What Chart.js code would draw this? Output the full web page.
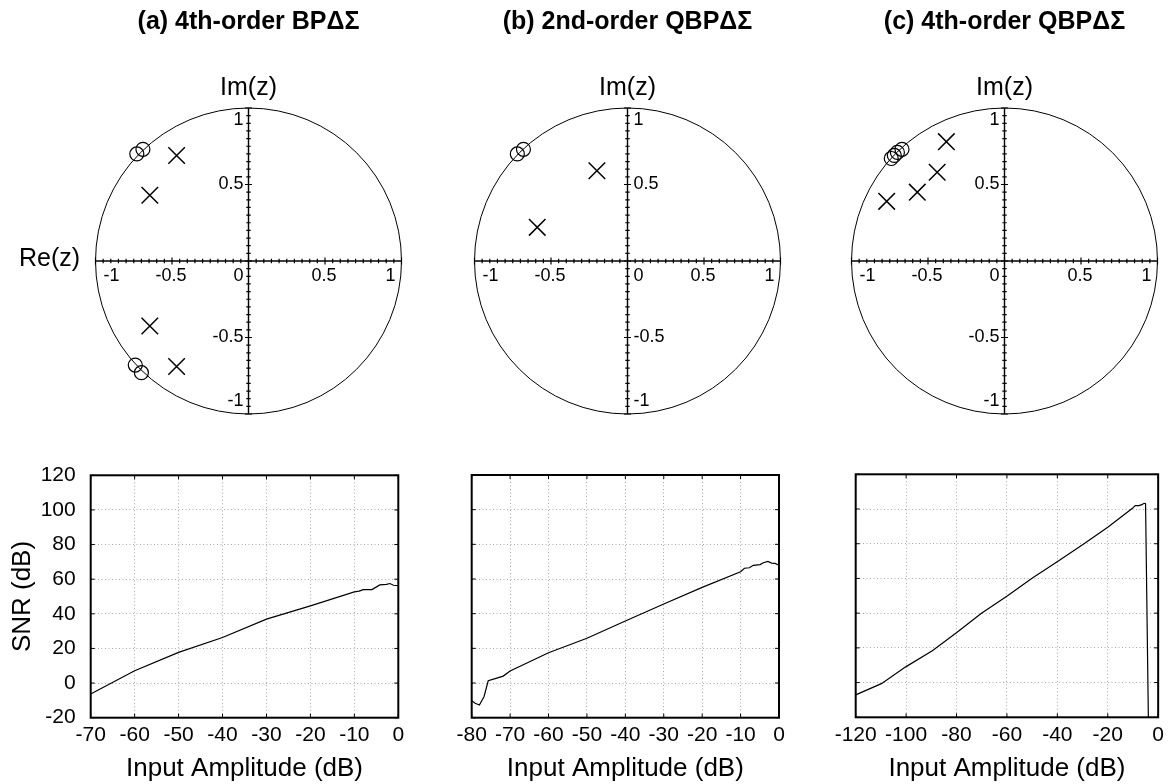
<!DOCTYPE html>
<html>
<head>
<meta charset="utf-8">
<script src="https://cdn.jsdelivr.net/npm/chart.js@4.4.0/dist/chart.umd.min.js"></script>
<style>
  html, body { margin: 0; padding: 0; background: #fff; overflow: hidden; }
  #wrap { position: relative; width: 1169px; height: 784px; }
  canvas { position: absolute; }
</style>
</head>
<body>
<div id="wrap">
  <canvas id="pzA" width="497" height="440" style="left:0px;top:0px"></canvas>
  <canvas id="pzB" width="401" height="440" style="left:427px;top:0px"></canvas>
  <canvas id="pzC" width="329" height="440" style="left:840px;top:0px"></canvas>
  <canvas id="snrA" width="420" height="344" style="left:0px;top:440px"></canvas>
  <canvas id="snrB" width="380" height="344" style="left:420px;top:440px"></canvas>
  <canvas id="snrC" width="369" height="344" style="left:800px;top:440px"></canvas>
</div>
<script>
// ---- pole / zero locations (real, imaginary) ----
const zerosA_re = [-0.73, -0.69, -0.74, -0.70];
const zerosA_im = [0.70, 0.73, -0.68, -0.73];
const polesA_re = [-0.47, -0.645, -0.645, -0.47];
const polesA_im = [0.69, 0.43, -0.425, -0.69];

const zerosB_re = [-0.72, -0.68];
const zerosB_im = [0.70, 0.73];
const polesB_re = [-0.20, -0.59];
const polesB_im = [0.59, 0.22];

const zerosC_re = [-0.74, -0.72, -0.70, -0.67];
const zerosC_im = [0.67, 0.69, 0.71, 0.73];
const polesC_re = [-0.38, -0.44, -0.57, -0.77];
const polesC_im = [0.78, 0.58, 0.45, 0.39];

// ---- z-plane axis ticks ----
const unitTicks = [-1, -0.5, 0, 0.5, 1];
const unitTickLabels = ['-1', '-0.5', '0', '0.5', '1'];

// ---- SNR curves: input amplitude (dB) vs SNR (dB) ----
const snrA_in  = [-70, -60, -50, -40, -30, -20, -10, -8.9, -8, -6, -4.2, -2.7, -1.9, -1.1, 0];
const snrA_out = [-6.3, 7.1, 17.7, 26.3, 36.9, 44.6, 52.7, 53.1, 54, 54, 56.7, 57, 57.5, 56.5, 56.2];

const snrB_in  = [-80, -79.1, -78, -76.8, -75.7, -73.9, -71.8, -70, -60, -50, -40, -30, -20, -10, -9, -7.7, -6.7, -4.9, -4.1, -2.9, -1.9, -1, 0];
const snrB_out = [-10.2, -11.7, -12.7, -7.9, 1.3, 2.5, 4.0, 6.9, 17.5, 25.8, 35.8, 45.6, 55.2, 64.2, 66.2, 66.5, 67.9, 68.3, 69.4, 70.2, 69.2, 69, 67.9];

const snrC_in  = [-120, -109.8, -100, -89.6, -79.9, -70.1, -59.9, -49.9, -39.9, -29.7, -20, -10.2, -9.1, -7.6, -6.5, -5.6, -5, -3.8];
const snrC_out = [-7.1, -0.6, 9.2, 18.4, 28.8, 39.9, 49.9, 60.3, 69.7, 79.7, 89.5, 100.4, 102, 102, 102.5, 103.3, 103.1, -30];

const snrTicksY = { min: -20, max: 120, step: 20 };

const titles = ['(a) 4th-order BP\u0394\u03A3', '(b) 2nd-order QBP\u0394\u03A3', '(c) 4th-order QBP\u0394\u03A3'];
const axisFont = '"Liberation Sans", Arial, Helvetica, sans-serif';

Chart.defaults.font.family = axisFont;
Chart.defaults.color = '#000';

const toPoints = (xs, ys) => xs.map((v, i) => ({ x: v, y: ys[i] }));

// unit circle, crossing axes, tick marks and labels of a z-plane plot
const zPlane = {
  id: 'zPlane',
  beforeDatasetsDraw(chart, args, opts) {
    const { ctx, scales: { x, y } } = chart;
    const x0 = x.getPixelForValue(0), y0 = y.getPixelForValue(0);
    const r = x.getPixelForValue(1) - x0;
    ctx.save();
    ctx.strokeStyle = '#000';
    ctx.lineWidth = 1;
    ctx.beginPath();
    ctx.arc(x0, y0, r, 0, 2 * Math.PI);
    ctx.stroke();

    ctx.lineWidth = 1.4;
    ctx.beginPath();
    ctx.moveTo(x.getPixelForValue(-1), y0); ctx.lineTo(x.getPixelForValue(1), y0);
    ctx.moveTo(x0, y.getPixelForValue(1)); ctx.lineTo(x0, y.getPixelForValue(-1));
    ctx.stroke();

    ctx.lineWidth = 1.2;
    ctx.beginPath();
    for (let k = -20; k <= 20; k++) {
      const v = k * 0.05;
      const h = (k % 10 === 0) ? 3.5 : 2.2;
      const px = x.getPixelForValue(v), py = y.getPixelForValue(v);
      ctx.moveTo(px, y0 - h); ctx.lineTo(px, y0 + h);
      ctx.moveTo(x0 - h, py); ctx.lineTo(x0 + h, py);
    }
    ctx.stroke();

    ctx.fillStyle = '#000';
    ctx.font = '18px ' + axisFont;
    ctx.textBaseline = 'middle';
    // real-axis labels
    unitTicks.forEach((v, i) => {
      const px = x.getPixelForValue(v);
      const ty = y0 + 15;
      if (v === -1) { ctx.textAlign = 'left'; ctx.fillText(unitTickLabels[i], px + 8, ty); }
      else if (v === 1) { ctx.textAlign = 'right'; ctx.fillText(unitTickLabels[i], px - 6, ty); }
      else if (v === 0) {
        if (opts.ySide === 'right') { ctx.textAlign = 'left'; ctx.fillText(unitTickLabels[i], px + 6, ty); }
        else { ctx.textAlign = 'right'; ctx.fillText(unitTickLabels[i], px - 5, ty); }
      } else { ctx.textAlign = 'center'; ctx.fillText(unitTickLabels[i], px - 1, ty); }
    });
    // imaginary-axis labels
    unitTicks.forEach((v, i) => {
      if (v === 0) return;
      let py = y.getPixelForValue(v);
      if (v === 1) py += 12;
      if (v === -1) py -= 13;
      if (opts.ySide === 'right') { ctx.textAlign = 'left'; ctx.fillText(unitTickLabels[i], x0 + 6, py); }
      else { ctx.textAlign = 'right'; ctx.fillText(unitTickLabels[i], x0 - 5, py); }
    });

    ctx.font = '25px ' + axisFont;
    ctx.textAlign = 'center';
    ctx.fillText('Im(z)', x0, y.getPixelForValue(1) - 20);
    if (opts.showRe) {
      ctx.fillText('Re(z)', x.getPixelForValue(-1) - 46, y0 - 2);
    }
    ctx.restore();
  }
};

// boxed frame with inward tick marks for the SNR plots
const snrFrame = {
  id: 'snrFrame',
  afterDatasetsDraw(chart) {
    const { ctx, chartArea: a, scales: { x, y } } = chart;
    ctx.save();
    ctx.strokeStyle = '#000';
    ctx.lineWidth = 1;
    ctx.beginPath();
    x.ticks.forEach((t, i) => {
      const px = x.getPixelForTick(i);
      ctx.moveTo(px, a.bottom); ctx.lineTo(px, a.bottom - 4);
      ctx.moveTo(px, a.top); ctx.lineTo(px, a.top + 4);
    });
    y.ticks.forEach((t, i) => {
      const py = y.getPixelForTick(i);
      ctx.moveTo(a.left, py); ctx.lineTo(a.left + 4, py);
      ctx.moveTo(a.right, py); ctx.lineTo(a.right - 4, py);
    });
    ctx.stroke();
    ctx.lineWidth = 2;
    ctx.strokeRect(a.left, a.top, a.right - a.left, a.bottom - a.top);
    ctx.restore();
  }
};

const PZ_RANGE = 1.07;   // visible half-range of each z-plane
const PZ_SCALE = 153;    // pixels per unit

function zPlaneChart(id, title, zr, zi, pr, pi, ySide, showRe) {
  const canvas = document.getElementById(id);
  const half = PZ_RANGE * PZ_SCALE;
  const side = canvas.width / 2 - half;
  return new Chart(canvas, {
    type: 'scatter',
    data: {
      datasets: [
        {
          data: toPoints(zr, zi),
          pointStyle: 'circle', pointRadius: 7, borderWidth: 1.2,
          borderColor: '#000', backgroundColor: 'rgba(0,0,0,0)', clip: false
        },
        {
          data: toPoints(pr, pi),
          pointStyle: 'crossRot', pointRadius: 11.7, borderWidth: 1.5,
          borderColor: '#000', backgroundColor: 'rgba(0,0,0,0)', clip: false
        }
      ]
    },
    options: {
      responsive: false, animation: false, events: [],
      layout: { autoPadding: false, padding: { left: side, right: side, top: 0, bottom: 15.3 } },
      scales: {
        x: { type: 'linear', display: false, min: -PZ_RANGE, max: PZ_RANGE },
        y: { type: 'linear', display: false, min: -PZ_RANGE, max: PZ_RANGE }
      },
      plugins: {
        legend: { display: false },
        tooltip: { enabled: false },
        title: {
          display: true, text: title, color: '#000',
          font: { size: 25, weight: 'bold', lineHeight: 1.2 },
          padding: { top: 7, bottom: 60.3 }
        },
        zPlane: { ySide: ySide, showRe: showRe }
      }
    },
    plugins: [zPlane]
  });
}

function snrChart(id, xs, ys, xMin, xStep, axisW, padTop, padRight, axisH, showY) {
  return new Chart(document.getElementById(id), {
    type: 'line',
    data: {
      datasets: [{
        data: toPoints(xs, ys),
        borderColor: '#000', borderWidth: 1.2, pointRadius: 0, tension: 0, fill: false
      }]
    },
    options: {
      responsive: false, animation: false, events: [],
      layout: { autoPadding: false, padding: { left: 0, right: padRight, top: padTop, bottom: 0 } },
      scales: {
        x: {
          type: 'linear', min: xMin, max: 0,
          ticks: { stepSize: xStep, font: { size: 21 }, color: '#000', padding: 5, maxRotation: 0 },
          grid: { color: '#a8a8a8', lineWidth: 1, drawTicks: false },
          border: { display: false, dash: [1, 2.5] },
          title: { display: true, text: 'Input Amplitude (dB)', color: '#000', font: { size: 26 }, padding: { top: 0, bottom: 0 } },
          afterFit: s => { s.height = axisH; }
        },
        y: {
          type: 'linear', min: snrTicksY.min, max: snrTicksY.max,
          ticks: { display: showY, stepSize: snrTicksY.step, font: { size: 21 }, color: '#000', padding: 15 },
          grid: { color: '#a8a8a8', lineWidth: 1, drawTicks: false },
          border: { display: false, dash: [1, 2.5] },
          title: { display: showY, text: 'SNR (dB)', color: '#000', font: { size: 26 }, padding: { top: 7, bottom: 0 } },
          afterFit: s => { s.width = axisW; }
        }
      },
      plugins: { legend: { display: false }, tooltip: { enabled: false } }
    },
    plugins: [snrFrame]
  });
}

zPlaneChart('pzA', titles[0], zerosA_re, zerosA_im, polesA_re, polesA_im, 'left', true);
zPlaneChart('pzB', titles[1], zerosB_re, zerosB_im, polesB_re, polesB_im, 'right', false);
zPlaneChart('pzC', titles[2], zerosC_re, zerosC_im, polesC_re, polesC_im, 'left', false);

snrChart('snrA', snrA_in, snrA_out, -70, 10, 90.7, 35.3, 21.7, 66.3, true);
snrChart('snrB', snrB_in, snrB_out, -80, 10, 51.7, 35.0, 21.0, 66.3, false);
snrChart('snrC', snrC_in, snrC_out, -120, 20, 55.7, 34.3, 6.3, 66.7, false);
</script>
</body>
</html>
